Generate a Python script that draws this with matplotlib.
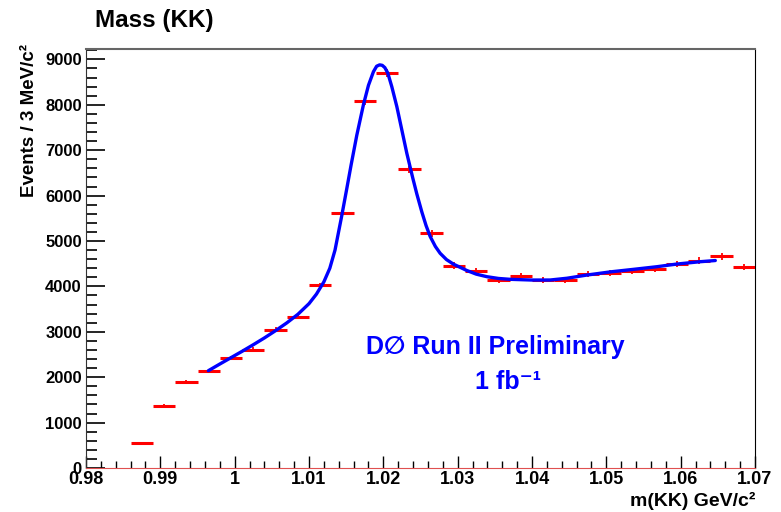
import numpy as np
import matplotlib
matplotlib.use("Agg")
import matplotlib.pyplot as plt
from matplotlib.ticker import MultipleLocator

plt.rcParams["font.family"] = ["Liberation Sans", "DejaVu Sans"]

# Histogram bins (3 MeV wide), contents and errors
bin_width = 0.003
mass = [0.9875, 0.9905, 0.9935, 0.9965, 0.9995, 1.0025, 1.0055, 1.0085,
        1.0115, 1.0145, 1.0175, 1.0205, 1.0235, 1.0265, 1.0295, 1.0325,
        1.0355, 1.0385, 1.0415, 1.0445, 1.0475, 1.0505, 1.0535, 1.0565,
        1.0595, 1.0625, 1.0655, 1.0685]
counts = [540, 1370, 1890, 2140, 2420, 2610, 3050, 3330,
          4020, 5610, 8090, 8700, 6580, 5170, 4460, 4340,
          4140, 4240, 4140, 4140, 4270, 4300, 4350, 4380,
          4490, 4570, 4660, 4430]
errors = [23, 37, 43, 46, 49, 51, 55, 58,
          63, 75, 90, 93, 81, 72, 67, 66,
          64, 65, 64, 64, 65, 66, 66, 66,
          67, 68, 68, 67]

# Fit curve, points
fit_mass = [0.99646, 0.99800, 0.99950, 1.00100, 1.00250, 1.00400, 1.00550,
            1.00700, 1.00850, 1.01000, 1.01100, 1.01200, 1.01280, 1.01350,
            1.01441, 1.01509, 1.01567, 1.01643, 1.01732, 1.01800, 1.01867,
            1.01910, 1.01950, 1.01985, 1.02020, 1.02060, 1.02114, 1.02182,
            1.02249, 1.02316, 1.02397, 1.02450, 1.02518, 1.02575, 1.02630,
            1.02700, 1.02764, 1.02850, 1.02944, 1.03034, 1.03124, 1.03250,
            1.03393, 1.03550, 1.03707, 1.04000, 1.04245, 1.04470, 1.04739,
            1.05053, 1.05366, 1.05681, 1.05950, 1.06264, 1.06466]
fit_val = [2143, 2290, 2430, 2570, 2715, 2865, 3025,
           3195, 3385, 3620, 3830, 4100, 4400, 4800,
           5560, 6160, 6680, 7330, 8000, 8430, 8730,
           8850, 8880, 8870, 8820, 8700, 8399, 7958,
           7445, 6932, 6381, 6040, 5640, 5340, 5100,
           4880, 4730, 4590, 4490, 4420, 4350, 4270,
           4214, 4175, 4156, 4140, 4141, 4180, 4250,
           4320, 4376, 4434, 4493, 4544, 4570]

fig = plt.figure(figsize=(7.81, 5.12), dpi=100)
ax = fig.add_axes([86 / 781, 1 - 468 / 512, (755 - 86) / 781, (468 - 48.7) / 512])

m = np.array(mass)
c = np.array(counts)
e = np.array(errors)

# Data points: horizontal bar over the bin, vertical bar for the error
ax.hlines(c, m - bin_width / 2, m + bin_width / 2, color="red", lw=2.2, zorder=3)
ax.vlines(m, c - e, c + e, color="red", lw=1.3, zorder=3)

# Fit
ax.plot(fit_mass, fit_val, color="blue", lw=2.4, solid_capstyle="round",
        solid_joinstyle="round", zorder=4)

ax.set_xlim(0.98, 1.07)
ax.set_ylim(0, 9236)

ax.xaxis.set_major_locator(MultipleLocator(0.01))
ax.xaxis.set_minor_locator(MultipleLocator(0.002))
ax.yaxis.set_major_locator(MultipleLocator(1000))
ax.yaxis.set_minor_locator(MultipleLocator(200))
ax.xaxis.set_major_formatter(plt.FuncFormatter(lambda v, p: f"{v:g}"))

ax.tick_params(axis="x", which="major", direction="in", length=9, width=1,
               labelsize=13, pad=2, top=False)
ax.tick_params(axis="x", which="minor", direction="in", length=5, width=1, top=False)
ax.tick_params(axis="y", which="major", direction="in", length=14, width=1.2,
               labelsize=12, pad=3, right=False)
ax.tick_params(axis="y", which="minor", direction="in", length=8, width=1.2, right=False)
for lab in ax.get_xticklabels() + ax.get_yticklabels():
    lab.set_fontweight("bold")

ax.spines["left"].set_color("#333333")
ax.spines["top"].set_color("#666666")
ax.spines["top"].set_linewidth(1.5)
ax.spines["right"].set_color("black")
ax.spines["bottom"].set_color("#e05050")

# Texts
fig.text(95 / 781, 1 - 20 / 512, "Mass (KK)", fontsize=17.5, fontweight="bold",
         ha="left", va="center")
fig.text(30 / 781, 1 - 44 / 512, "Events / 3 MeV/c²", fontsize=13.5, fontweight="bold",
         rotation=90, ha="center", va="top")
fig.text(755 / 781, 1 - 501 / 512, "m(KK) GeV/c²", fontsize=14, fontweight="bold",
         ha="right", va="center")
ax.text(1.0351, 2665, "D\u2205 Run II Preliminary", color="blue", fontsize=18,
        fontweight="bold", ha="center", va="center")
ax.text(1.0368, 1894, "1 fb\u207b\u00b9", color="blue", fontsize=18,
        fontweight="bold", ha="center", va="center")

fig.savefig("out.png", dpi=100)
